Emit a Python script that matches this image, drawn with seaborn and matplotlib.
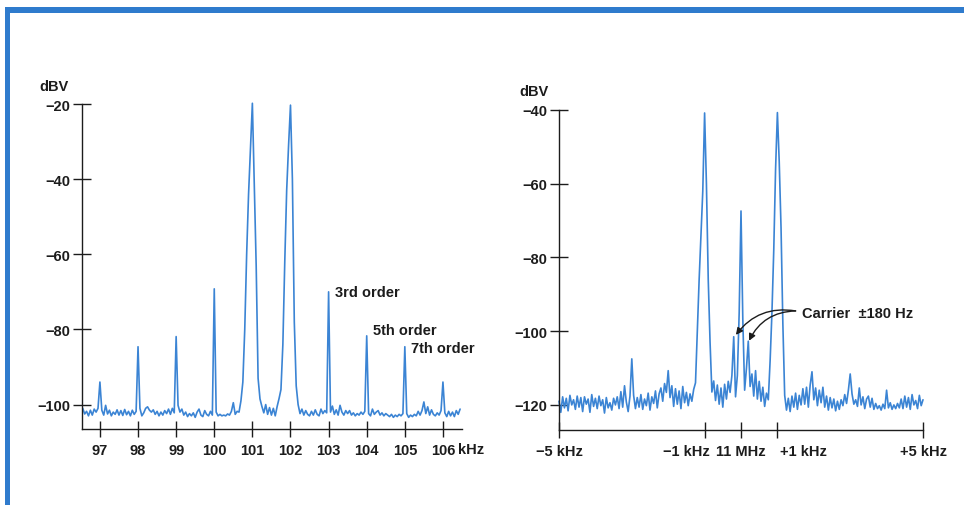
import numpy as np
import pandas as pd
import seaborn as sns
import matplotlib.pyplot as plt
from matplotlib.patches import Rectangle
from matplotlib.transforms import ScaledTranslation

# ---- left spectrum: two tones at 101 and 102 kHz ----
left_start, left_step = 96.55, 0.05
left_dbv = [
    -101.0, -102.5, -101.8, -103.0, -101.5, -102.8, -101.2, -102.0, -101.0,
    # 97
    -94.0, -101.5, -102.8, -100.2, -102.5, -101.5, -103.0, -102.0, -102.6, -101.4,
    -102.8, -101.6, -102.9, -101.3, -102.7, -101.8, -103.0, -101.5, -102.6, -101.8,
    # 98
    -84.6, -101.0, -103.0, -102.2, -101.0, -100.6, -101.5, -102.0, -101.4, -102.6,
    -101.8, -103.0, -102.0, -102.8, -101.6, -102.4, -101.2, -102.6, -101.0, -102.2,
    # 99
    -81.9, -100.2, -102.0, -101.2, -102.8, -102.0, -103.2, -102.4, -103.0, -102.2,
    -103.4, -102.0, -101.2, -102.8, -103.2, -101.6, -102.6, -103.0, -101.8, -102.8,
    # 100
    -69.2, -102.0, -103.0, -102.6, -103.0, -102.8, -103.0, -102.5, -102.8, -101.8,
    -99.5, -102.6, -101.8, -102.0, -99.0, -94.0, -80.0, -60.0, -44.0, -32.0,
    # 101
    -19.8, -42.0, -63.0, -93.0, -98.5, -100.5, -102.2, -100.0, -102.6, -100.8,
    -102.8, -101.0, -103.0, -100.5, -98.4, -96.0, -84.0, -62.0, -43.0, -31.0,
    # 102
    -20.3, -40.0, -78.0, -95.0, -100.0, -102.4, -101.2, -102.8, -101.6, -102.6,
    -103.0, -101.8, -102.8, -101.4, -102.6, -103.0, -101.2, -102.4, -101.6, -102.2,
    # 103
    -70.0, -102.0, -100.4, -102.6, -101.4, -102.8, -100.2, -102.0, -102.8, -101.6,
    -102.4, -101.6, -102.8, -102.2, -103.0, -102.4, -102.8, -102.0, -102.6, -101.8,
    # 104
    -81.7, -102.4, -103.0, -101.2, -102.6, -102.0, -101.6, -102.8, -102.2, -103.0,
    -102.4, -102.8, -103.2, -102.6, -103.4, -102.8, -103.2, -102.6, -103.0, -102.4,
    # 105
    -84.6, -102.4, -103.4, -102.8, -103.2, -102.6, -103.0, -101.8, -102.8, -101.6,
    -99.3, -102.4, -100.6, -102.8, -101.4, -102.6, -103.0, -102.2, -102.8, -101.6,
    # 106
    -94.0, -102.2, -103.2, -101.8, -103.0, -102.0, -103.2, -101.6, -102.6, -101.2,
]
left_xticks = [97, 98, 99, 100, 101, 102, 103, 104, 105, 106]
left_xlabels = ['97', '98', '99', '100', '101', '102', '103', '104', '105', '106']
left_yticks = [-20, -40, -60, -80, -100]
order_labels = ['3rd order', '5th order', '7th order']
order_freqs = [103.18, 104.16, 105.16]
order_levels = [-70.0, -80.2, -84.9]

# ---- right spectrum: 11 MHz carrier, +/-5 kHz span ----
right_start, right_step = -5.0, 0.05
right_dbv = [
    # -5
    -119.0, -122.0, -117.8, -120.8, -118.2, -121.6, -117.4, -120.0, -118.6, -121.2,
    -117.6, -120.6, -118.0, -121.8, -117.8, -119.8, -118.4, -122.0, -117.2, -120.4,
    # -4
    -118.2, -121.0, -117.6, -120.2, -118.6, -122.2, -118.0, -120.8, -119.4, -121.4,
    -118.2, -120.0, -117.8, -121.0, -116.4, -120.6, -114.8, -119.2, -121.8, -117.6,
    # -3
    -107.5, -117.4, -121.0, -118.0, -120.6, -117.2, -121.2, -118.4, -120.2, -116.8,
    -121.4, -117.8, -119.6, -116.2, -120.8, -117.0, -115.4, -119.0, -114.2, -116.6,
    # -2
    -110.7, -118.0, -114.8, -120.4, -115.6, -119.8, -116.2, -121.0, -115.0, -119.4,
    -116.6, -120.2, -117.0, -119.0, -115.8, -114.0, -100.0, -86.0, -74.0, -62.0,
    # -1
    -40.8, -60.0, -86.0, -103.0, -116.5, -113.5, -118.8, -114.6, -119.8, -115.4,
    -120.6, -114.4, -118.4, -113.6, -116.6, -112.0, -101.5, -117.8, -112.0, -95.0,
    # 0 (11 MHz)
    -67.4, -97.0, -116.0, -110.0, -102.7, -115.0, -111.6, -117.6, -110.7, -118.4,
    -113.6, -119.0, -115.2, -120.4, -116.8, -118.6, -108.0, -95.0, -78.0, -56.0,
    # +1
    -40.7, -54.0, -72.0, -98.0, -117.4, -121.4, -118.2, -121.8, -117.6, -120.6,
    -116.8, -121.2, -117.4, -120.0, -115.6, -119.8, -115.2, -120.6, -114.6, -111.0,
    # +2
    -118.6, -115.4, -120.2, -116.0, -119.4, -115.2, -120.6, -117.6, -121.4, -118.0,
    -120.8, -118.4, -121.6, -119.0, -121.2, -118.6, -120.2, -117.2, -119.6, -116.0,
    # +3
    -111.6, -117.0, -119.8, -118.6, -120.4, -115.4, -120.0, -117.8, -121.0, -118.4,
    -117.6, -120.6, -118.2, -121.2, -119.6, -121.0, -120.2, -121.4, -119.8, -121.0,
    # +4
    -116.0, -120.8, -119.4, -121.2, -120.0, -121.0, -119.6, -120.8, -118.4, -121.0,
    -117.6, -120.6, -118.0, -121.2, -117.2, -120.0, -118.8, -121.0, -117.4, -120.2,
    # +5
    -118.6,
]
right_xticks = [-5, -1, 0, 1, 5]
right_xlabels = ['\u22125 kHz', '\u22121 kHz', '11 MHz', '+1 kHz', '+5 kHz']
right_yticks = [-40, -60, -80, -100, -120]
sideband_freqs = [-0.14, 0.22]
sideband_levels = [-101.0, -102.6]

left = pd.DataFrame({'kHz': np.round(left_start + left_step * np.arange(len(left_dbv)), 3),
                     'dBV': left_dbv})
right = pd.DataFrame({'kHz': np.round(right_start + right_step * np.arange(len(right_dbv)), 3),
                      'dBV': right_dbv})

sns.set_theme(style='white')
plt.rcParams['font.family'] = ['Liberation Sans', 'DejaVu Sans']
plt.rcParams['font.weight'] = 'bold'

ink = '#1c1c1c'
trace = '#3b84d4'

fig = plt.figure(figsize=(9.64, 5.06), dpi=100)
ax1 = fig.add_axes([82 / 964, 76 / 506, 380 / 964, 325 / 506])
ax2 = fig.add_axes([559 / 964, 75 / 506, 364 / 964, 320 / 506])

sns.lineplot(data=left, x='kHz', y='dBV', ax=ax1, color=trace, lw=1.2,
             estimator=None, clip_on=False)
sns.lineplot(data=right, x='kHz', y='dBV', ax=ax2, color=trace, lw=1.2,
             estimator=None, clip_on=False)

ax1.set_xlim(96.53, 106.5)
ax1.set_ylim(-106.5, -20)
ax1.set_xticks(left_xticks, left_xlabels)
ax1.set_yticks(left_yticks, [f'\u2212{-v}' for v in left_yticks])

ax2.set_xlim(-5, 5)
ax2.set_ylim(-126.8, -40)
ax2.set_xticks(right_xticks, right_xlabels)
ax2.set_yticks(right_yticks, [f'\u2212{-v}' for v in right_yticks])
labs = ax2.get_xticklabels()
labs[1].set_ha('right')
labs[3].set_ha('left')

for ax in (ax1, ax2):
    ax.set_xlabel('')
    ax.set_ylabel('')
    ax.set_facecolor('none')
    for side in ('top', 'right'):
        ax.spines[side].set_visible(False)
    for side in ('left', 'bottom'):
        ax.spines[side].set_color(ink)
        ax.spines[side].set_linewidth(1.0)
    ax.tick_params(axis='x', direction='inout', length=11.5, width=1.0,
                   pad=4, labelsize=10.5, colors=ink, bottom=True)
    ax.tick_params(axis='y', direction='inout', length=13, width=1.0,
                   pad=2, labelsize=10.5, colors=ink, left=True)

# offset the +/-1 kHz labels away from the carrier tick
labs[1].set_transform(labs[1].get_transform() + ScaledTranslation(5 / 100, 0, fig.dpi_scale_trans))
labs[3].set_transform(labs[3].get_transform() + ScaledTranslation(3 / 100, 0, fig.dpi_scale_trans))

for txt, f, lvl in zip(order_labels, order_freqs, order_levels):
    ax1.text(f, lvl, txt, ha='left', va='center', fontsize=10.5, color=ink)

ax2.text(1.68, -95.0, 'Carrier  \u00b1180 Hz', ha='left', va='center',
         fontsize=10.5, color=ink)
for f, lvl in zip(sideband_freqs, sideband_levels):
    ax2.annotate('', xy=(f, lvl), xytext=(1.5, -94.5),
                 arrowprops=dict(arrowstyle='-|>', color=ink, lw=1.0,
                                 mutation_scale=10,
                                 connectionstyle='arc3,rad=0.3',
                                 shrinkA=0, shrinkB=0))

fig.text(39 / 964, 1 - 87 / 506, 'dBV', ha='left', va='center', fontsize=10.5, color=ink)
fig.text(519 / 964, 1 - 92 / 506, 'dBV', ha='left', va='center', fontsize=10.5, color=ink)
fig.text(458 / 964, 1 - 450 / 506, 'kHz', ha='left', va='center', fontsize=10.5, color=ink)

# blue page frame on the top and left
frame = '#2f7bcd'
fig.add_artist(Rectangle((5 / 964, 1 - 14 / 506), 1, 6 / 506, transform=fig.transFigure,
                         color=frame, lw=0))
fig.add_artist(Rectangle((5 / 964, 0), 5 / 964, 1 - 8 / 506, transform=fig.transFigure,
                         color=frame, lw=0))

fig.savefig('out.png', dpi=100, facecolor='white')
